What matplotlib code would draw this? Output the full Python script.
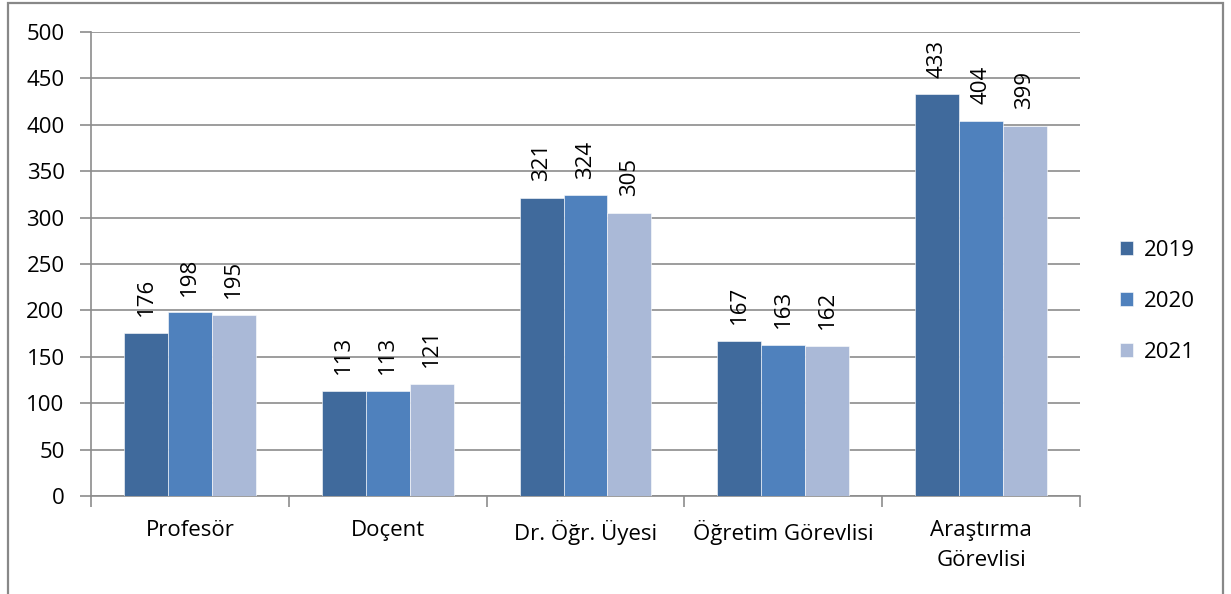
import matplotlib
matplotlib.use("Agg")
import matplotlib.pyplot as plt
import numpy as np
from matplotlib.patches import Rectangle

plt.rcParams['font.family'] = ['Open Sans', 'DejaVu Sans']

# data
categories = ['Profesör', 'Doçent', 'Dr. Öğr. Üyesi', 'Öğretim Görevlisi', 'Araştırma\nGörevlisi']
years = ['2019', '2020', '2021']
v2019 = [176, 113, 321, 167, 433]
v2020 = [198, 113, 324, 163, 404]
v2021 = [195, 121, 305, 162, 399]
colors = ['#406A9C', '#4F81BD', '#AAB9D7']

W, H = 1231, 594
fig = plt.figure(figsize=(W / 100, H / 100), dpi=100)
ax = fig.add_axes([91 / W, 1 - 496 / H, (1080 - 91) / W, (496 - 32) / H])

# outer frame
fig.patches.append(Rectangle((8 / W, -0.05), (1223 - 8) / W, 1 - 3 / H + 0.05,
                             transform=fig.transFigure, fill=False,
                             edgecolor='#888888', linewidth=1.6))

fs = 16
x = np.arange(len(categories))
bw = 0.222
series = [v2019, v2020, v2021]
for i, (vals, yr, c) in enumerate(zip(series, years, colors)):
    pos = x + (i - 1) * bw
    ax.bar(pos, vals, width=bw, color=c, label=yr, zorder=3,
           edgecolor='white', linewidth=0.4)
    for p, v in zip(pos, vals):
        ax.annotate(str(v), (p, v), xytext=(0, 12), textcoords='offset points',
                    rotation=90, ha='center', va='bottom', fontsize=fs,
                    color='black')

ax.set_xlim(-0.5, len(categories) - 0.5)
ax.set_ylim(0, 500)
ax.set_yticks(np.arange(0, 501, 50))
ax.yaxis.grid(True, color='#8C8C8C', linewidth=1.2, zorder=0)
ax.set_axisbelow(True)

ax.set_xticks(x)
ax.set_xticklabels(categories, fontsize=fs, linespacing=1.6)
ax.set_xticks(np.arange(-0.5, len(categories)), minor=True)
ax.tick_params(axis='x', which='major', length=0, pad=17)
ax.tick_params(axis='x', which='minor', length=8, width=1.2, color='#8C8C8C')
ax.tick_params(axis='y', length=8, width=1.2, color='#8C8C8C', labelsize=fs, pad=11)

for s in ['top', 'right']:
    ax.spines[s].set_visible(False)
for s in ['left', 'bottom']:
    ax.spines[s].set_color('#8C8C8C')
    ax.spines[s].set_linewidth(1.2)

leg = ax.legend(loc='center left', bbox_to_anchor=(1.02, 0.42), frameon=False,
                fontsize=fs, handlelength=0.6, handleheight=0.6,
                handletextpad=0.5, labelspacing=1.35)

fig.savefig('out.png', dpi=100)
